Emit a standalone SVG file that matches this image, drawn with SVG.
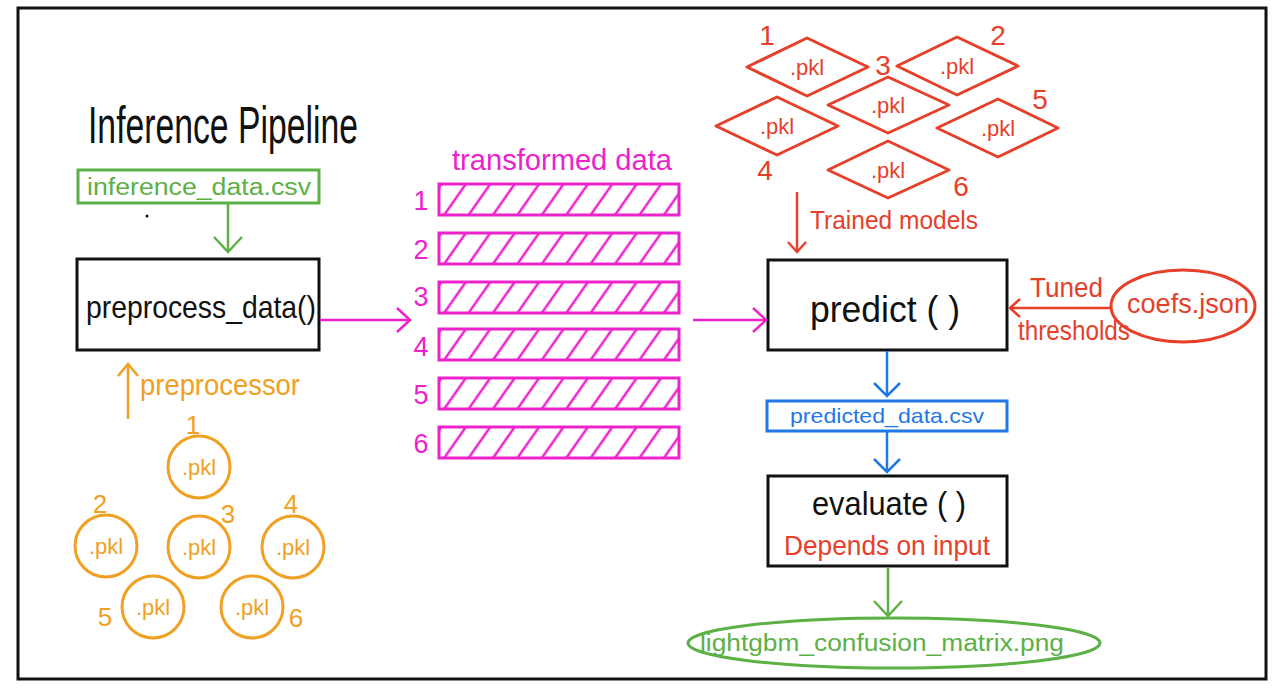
<svg xmlns="http://www.w3.org/2000/svg" width="1280" height="692" viewBox="0 0 1280 692">
<style>
  text { font-family: "Liberation Sans", "DejaVu Sans", sans-serif; }
  .blk { fill: none; stroke: #111; stroke-width: 3; }
  .tg { fill: #5cb046; }
  .tm { fill: #ee22cc; }
  .to { fill: #f0a023; }
  .tr { fill: #e6402b; }
  .tb { fill: #1f78e6; }
  .tk { fill: #111; }
  .pkl { font-size: 22px; text-anchor: middle; }
</style>
<defs>
  <marker id="ah-g" viewBox="-16 -16 18 32" refX="0" refY="0" markerUnits="userSpaceOnUse" markerWidth="18" markerHeight="32" orient="auto"><path d="M-15,-14 L0,0 L-15,14" fill="none" stroke="#5cb046" stroke-width="2.5"/></marker>
  <marker id="ah-m" viewBox="-16 -16 18 32" refX="0" refY="0" markerUnits="userSpaceOnUse" markerWidth="18" markerHeight="32" orient="auto"><path d="M-13,-12 L0,0 L-13,12" fill="none" stroke="#ee22cc" stroke-width="2.5"/></marker>
  <marker id="ah-o" viewBox="-16 -16 18 32" refX="0" refY="0" markerUnits="userSpaceOnUse" markerWidth="18" markerHeight="32" orient="auto"><path d="M-12,-10 L0,0 L-12,10" fill="none" stroke="#f0a023" stroke-width="2.5"/></marker>
  <marker id="ah-r" viewBox="-16 -16 18 32" refX="0" refY="0" markerUnits="userSpaceOnUse" markerWidth="18" markerHeight="32" orient="auto"><path d="M-10,-9 L0,0 L-10,9" fill="none" stroke="#e6402b" stroke-width="2.5"/></marker>
  <marker id="ah-b" viewBox="-16 -16 18 32" refX="0" refY="0" markerUnits="userSpaceOnUse" markerWidth="18" markerHeight="32" orient="auto"><path d="M-13,-13 L0,0 L-13,13" fill="none" stroke="#1f78e6" stroke-width="2.5"/></marker>
  <pattern id="hatch" patternUnits="userSpaceOnUse" width="20" height="40" patternTransform="rotate(35)">
    <line x1="2" y1="0" x2="2" y2="40" stroke="#ee22cc" stroke-width="2.5"/>
  </pattern>
  <g id="bar">
    <rect x="0" y="0" width="240" height="31" fill="url(#hatch)" stroke="#ee22cc" stroke-width="3"/>
  </g>
</defs>

<rect x="0" y="0" width="1280" height="692" fill="#fff"/>
<rect x="18" y="8" width="1248" height="671" fill="none" stroke="#111" stroke-width="3"/>

<g id="title">
  <text x="88" y="143" font-size="52" class="tk" textLength="270" lengthAdjust="spacingAndGlyphs">Inference Pipeline</text>
  <circle cx="147" cy="216" r="1.5" fill="#111"/>
</g>

<g id="inference_data">
  <rect x="78" y="170" width="241" height="33" fill="none" stroke="#5cb046" stroke-width="3"/>
  <text x="87" y="195" font-size="23" class="tg" textLength="224" lengthAdjust="spacingAndGlyphs">inference_data.csv</text>
</g>

<g id="preprocess_data">
  <rect x="77" y="259" width="242" height="91" class="blk"/>
  <text x="86" y="318" font-size="32" class="tk" textLength="230" lengthAdjust="spacingAndGlyphs">preprocess_data()</text>
</g>

<g id="preprocessor">
  <text x="140" y="395" font-size="30" class="to" textLength="160" lengthAdjust="spacingAndGlyphs">preprocessor</text>
  <g fill="none" stroke="#f0a023" stroke-width="3">
    <circle cx="199" cy="467" r="31"/>
    <circle cx="106" cy="546" r="31"/>
    <circle cx="199" cy="547" r="31"/>
    <circle cx="293" cy="547" r="31"/>
    <circle cx="153" cy="607" r="31"/>
    <circle cx="252" cy="607" r="31"/>
  </g>
  <g class="to pkl">
    <text x="199" y="475">.pkl</text>
    <text x="106" y="554">.pkl</text>
    <text x="199" y="555">.pkl</text>
    <text x="293" y="555">.pkl</text>
    <text x="153" y="615">.pkl</text>
    <text x="252" y="615">.pkl</text>
  </g>
  <g class="to" font-size="26" text-anchor="middle">
    <text x="193" y="434">1</text>
    <text x="100" y="513">2</text>
    <text x="228" y="523">3</text>
    <text x="291" y="513">4</text>
    <text x="105" y="626">5</text>
    <text x="296" y="627">6</text>
  </g>
</g>

<g id="transformed_data">
  <text x="452" y="170" font-size="29" class="tm" textLength="220" lengthAdjust="spacingAndGlyphs">transformed data</text>
  <use href="#bar" x="439" y="184"/>
  <use href="#bar" x="439" y="233"/>
  <use href="#bar" x="439" y="282"/>
  <use href="#bar" x="439" y="329"/>
  <use href="#bar" x="439" y="378"/>
  <use href="#bar" x="439" y="427"/>
  <g class="tm" font-size="27" text-anchor="middle">
    <text x="421" y="210">1</text>
    <text x="421" y="259">2</text>
    <text x="421" y="306">3</text>
    <text x="421" y="356">4</text>
    <text x="421" y="404">5</text>
    <text x="421" y="453">6</text>
  </g>
</g>

<g id="trained_models">
  <g fill="none" stroke="#e6402b" stroke-width="3" stroke-linejoin="round">
    <polygon points="747,67 807,38 868,67 807,96"/>
    <polygon points="897,66 957,37 1018,66 957,95"/>
    <polygon points="828,105 888,77 949,105 888,133"/>
    <polygon points="716,126 777,97 838,126 777,155"/>
    <polygon points="937,128 998,99 1058,128 998,157"/>
    <polygon points="828,170 888,141 949,170 888,198"/>
  </g>
  <g class="tr pkl">
    <text x="807" y="75">.pkl</text>
    <text x="957" y="74">.pkl</text>
    <text x="888" y="113">.pkl</text>
    <text x="777" y="134">.pkl</text>
    <text x="998" y="136">.pkl</text>
    <text x="888" y="178">.pkl</text>
  </g>
  <g class="tr" font-size="28" text-anchor="middle">
    <text x="767" y="45">1</text>
    <text x="998" y="45">2</text>
    <text x="883" y="75">3</text>
    <text x="765" y="180">4</text>
    <text x="1040" y="109">5</text>
    <text x="961" y="196">6</text>
  </g>
  <text x="810" y="229" font-size="26" class="tr" textLength="168" lengthAdjust="spacingAndGlyphs">Trained models</text>
</g>

<g id="predict">
  <rect x="768" y="260" width="239" height="90" class="blk"/>
  <text x="810" y="322" font-size="36" class="tk" textLength="150" lengthAdjust="spacingAndGlyphs">predict ( )</text>
</g>

<g id="coefs">
  <ellipse cx="1183" cy="306" rx="72" ry="36" fill="none" stroke="#e6402b" stroke-width="3"/>
  <text x="1127" y="313" font-size="27" class="tr" textLength="122" lengthAdjust="spacingAndGlyphs">coefs.json</text>
  <text x="1030" y="297" font-size="27" class="tr" textLength="73" lengthAdjust="spacingAndGlyphs">Tuned</text>
  <text x="1018" y="340" font-size="27" class="tr" textLength="112" lengthAdjust="spacingAndGlyphs">thresholds</text>
</g>

<g id="predicted_data">
  <rect x="767" y="401" width="240" height="30" fill="none" stroke="#1f78e6" stroke-width="3"/>
  <text x="790" y="423" font-size="21" class="tb" textLength="194" lengthAdjust="spacingAndGlyphs">predicted_data.csv</text>
</g>

<g id="evaluate">
  <rect x="768" y="476" width="239" height="90" class="blk"/>
  <text x="812" y="515" font-size="34" class="tk" textLength="154" lengthAdjust="spacingAndGlyphs">evaluate ( )</text>
  <text x="784" y="555" font-size="28" class="tr" textLength="206" lengthAdjust="spacingAndGlyphs">Depends on input</text>
</g>

<g id="confusion_matrix">
  <ellipse cx="894" cy="643" rx="206" ry="25" fill="none" stroke="#5cb046" stroke-width="3"/>
  <text x="700" y="651" font-size="23" class="tg" textLength="364" lengthAdjust="spacingAndGlyphs">lightgbm_confusion_matrix.png</text>
</g>

<g id="connectors" fill="none" stroke-width="2.5">
  <line x1="228" y1="204" x2="228" y2="252" stroke="#5cb046" marker-end="url(#ah-g)"/>
  <line x1="320" y1="320" x2="410" y2="320" stroke="#ee22cc" marker-end="url(#ah-m)"/>
  <line x1="693" y1="320" x2="766" y2="320" stroke="#ee22cc" marker-end="url(#ah-m)"/>
  <line x1="128" y1="419" x2="128" y2="364" stroke="#f0a023" marker-end="url(#ah-o)"/>
  <line x1="797" y1="192" x2="797" y2="252" stroke="#e6402b" marker-end="url(#ah-r)"/>
  <line x1="1111" y1="308" x2="1010" y2="308" stroke="#e6402b" marker-end="url(#ah-r)"/>
  <line x1="887" y1="351" x2="887" y2="396" stroke="#1f78e6" marker-end="url(#ah-b)"/>
  <line x1="887" y1="432" x2="887" y2="472" stroke="#1f78e6" marker-end="url(#ah-b)"/>
  <line x1="888" y1="567" x2="888" y2="616" stroke="#5cb046" marker-end="url(#ah-g)"/>
</g>
</svg>
